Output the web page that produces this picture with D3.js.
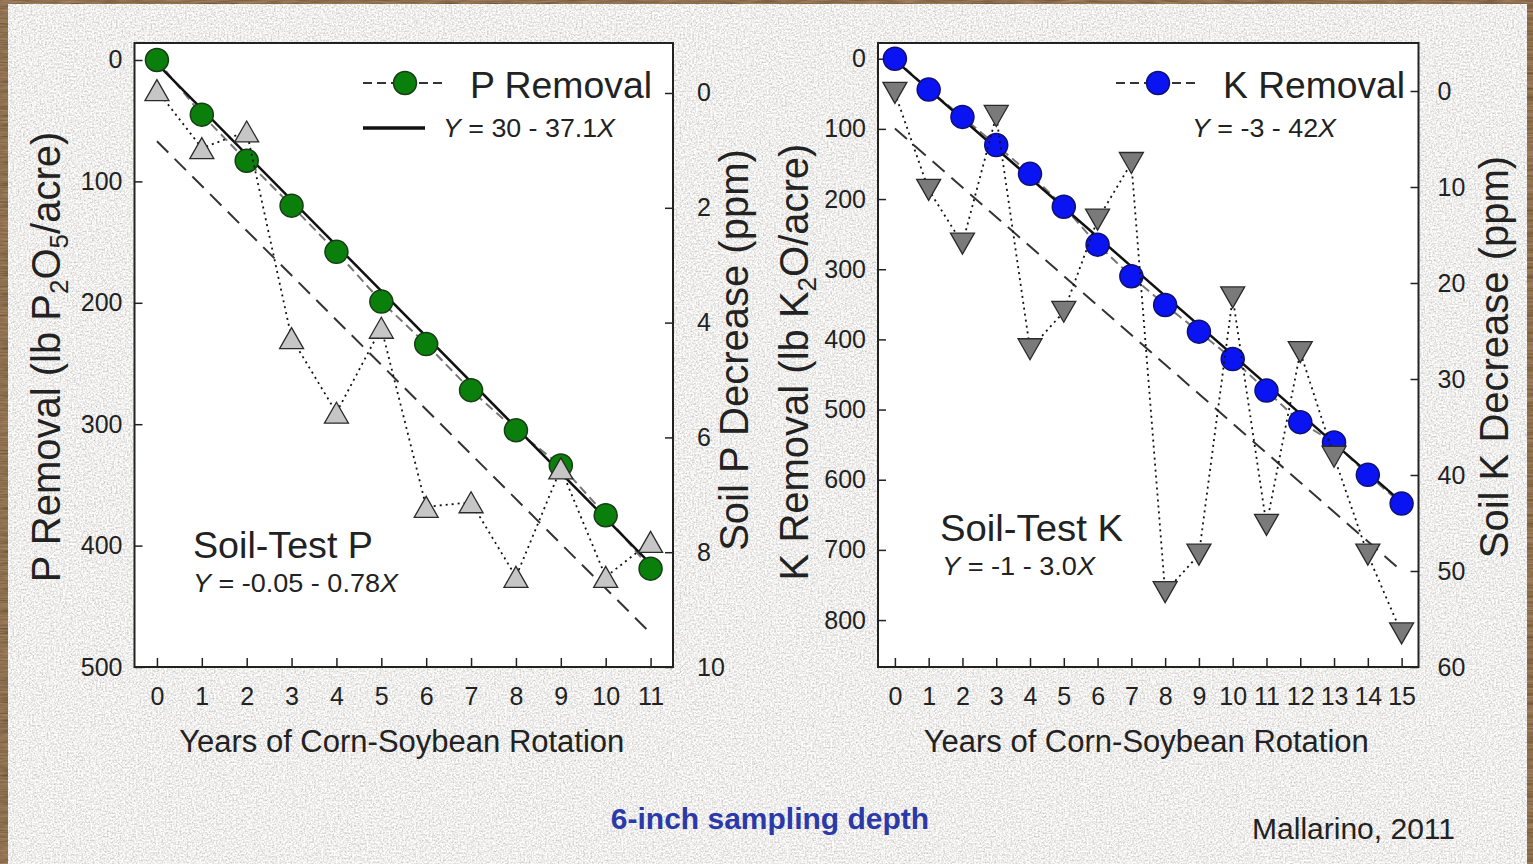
<!DOCTYPE html>
<html>
<head>
<meta charset="utf-8">
<script src="https://cdn.jsdelivr.net/npm/d3@7"></script>
<style>
  html, body { margin: 0; padding: 0; background: #d9d7d3; overflow: hidden; }
  svg { display: block; }
</style>
</head>
<body>
<svg id="fig" width="1533" height="864"></svg>
<script>
// ---- Phosphorus panel data (Years of corn-soybean rotation) ----
const pYears = [0, 1, 2, 3, 4, 5, 6, 7, 8, 9, 10, 11];
const pRemoval = [0, 45, 83, 120, 158, 199, 234, 272, 305, 334, 375, 419];          // lb P2O5/acre
const soilTestP = [-0.05, 0.96, 0.67, 4.27, 5.57, 4.09, 7.21, 7.13, 8.43, 6.54, 8.43, 7.82]; // ppm decrease
const pRemovalFitX = [0, 11];
const pRemovalFitY = [3, 415];
const soilPFitX = [0, 11];
const soilPFitY = [0.84, 9.41];
const pLbTicks = [0, 100, 200, 300, 400, 500];
const pPpmTicks = [0, 2, 4, 6, 8, 10];

// ---- Potassium panel data ----
const kYears = [0, 1, 2, 3, 4, 5, 6, 7, 8, 9, 10, 11, 12, 13, 14, 15];
const kRemoval = [0, 44, 83, 123, 164, 211, 265, 310, 351, 389, 428, 473, 518, 547, 593, 634]; // lb K2O/acre
const soilTestK = [0.2, 10.3, 15.9, 2.6, 26.9, 23.0, 13.4, 7.5, 52.2, 48.3, 21.5, 45.2, 27.2, 38.1, 48.3, 56.5]; // ppm decrease
const kRemovalFitX = [0, 15];
const kRemovalFitY = [2, 632];
const soilKFitX = [0, 15];
const soilKFitY = [3.9, 50];
const kLbTicks = [0, 100, 200, 300, 400, 500, 600, 700, 800];
const kPpmTicks = [0, 10, 20, 30, 40, 50, 60];

const FONT = '"Liberation Sans", Arial, Helvetica, sans-serif';
const W = 1533, H = 864;
const svg = d3.select('#fig').attr('font-family', FONT);
const defs = svg.append('defs');

// Speckled stone texture for the slide background
const stone = defs.append('filter').attr('id', 'stone')
  .attr('x', 0).attr('y', 0).attr('width', '100%').attr('height', '100%');
stone.append('feTurbulence').attr('type', 'fractalNoise').attr('baseFrequency', 0.55)
  .attr('numOctaves', 3).attr('seed', 11).attr('result', 'noise');
stone.append('feColorMatrix').attr('in', 'noise').attr('type', 'matrix')
  .attr('values', '0.8 0 0 0 0.46  0.8 0 0 0 0.455  0.8 0 0 0 0.44  0 0 0 0 1');

const wood = defs.append('filter').attr('id', 'wood')
  .attr('x', 0).attr('y', 0).attr('width', '100%').attr('height', '100%');
wood.append('feTurbulence').attr('type', 'fractalNoise').attr('baseFrequency', '0.05 0.6')
  .attr('numOctaves', 2).attr('seed', 3).attr('result', 'noise');
wood.append('feColorMatrix').attr('in', 'noise').attr('type', 'matrix')
  .attr('values', '0.3 0 0 0 0.12  0.2 0 0 0 0.06  0.12 0 0 0 0.02  0 0 0 0 1');

svg.append('rect').attr('width', W).attr('height', H).attr('filter', 'url(#stone)');
// dark frame along the top, left and right edges
svg.append('rect').attr('x', 0).attr('y', 0).attr('width', W).attr('height', 4).attr('filter', 'url(#wood)');
svg.append('rect').attr('x', 0).attr('y', 0).attr('width', 8).attr('height', H).attr('filter', 'url(#wood)');
svg.append('rect').attr('x', W - 6).attr('y', 0).attr('width', 6).attr('height', H).attr('filter', 'url(#wood)');

function triPath(w, h, down) {
  const s = down ? -1 : 1;
  return `M0,${-s * h / 2}L${w / 2},${s * h / 2}L${-w / 2},${s * h / 2}Z`;
}

function equation(g, x, y, len, parts) {
  const t = g.append('text').attr('x', x).attr('y', y).attr('font-size', 25).attr('fill', '#222')
    .attr('textLength', len).attr('lengthAdjust', 'spacingAndGlyphs');
  t.append('tspan').attr('font-style', 'italic').text('Y');
  t.append('tspan').text(parts);
  t.append('tspan').attr('font-style', 'italic').text('X');
}

function panel(o) {
  const g = svg.append('g');
  const x = d3.scaleLinear().domain(o.xDomain).range([o.left, o.right]);
  const yLb = d3.scaleLinear().domain(o.lbDomain).range([o.top, o.bottom]);
  const yPpm = d3.scaleLinear().domain(o.ppmDomain).range([o.top, o.bottom]);

  g.append('rect').attr('x', o.left).attr('y', o.top)
    .attr('width', o.right - o.left).attr('height', o.bottom - o.top).attr('fill', '#fff');

  const axB = g.append('g').attr('transform', `translate(0,${o.bottom})`)
    .call(d3.axisBottom(x).tickValues(o.years).tickSize(-9).tickPadding(20).tickFormat(d3.format('d')));
  const axL = g.append('g').attr('transform', `translate(${o.left},0)`)
    .call(d3.axisLeft(yLb).tickValues(o.lbTicks).tickSize(-8).tickPadding(12));
  const axR = g.append('g').attr('transform', `translate(${o.right},0)`)
    .call(d3.axisRight(yPpm).tickValues(o.ppmTicks).tickSize(-8).tickPadding(o.rightPad));
  [axB, axL, axR].forEach(a => {
    a.attr('font-family', FONT).attr('font-size', 25);
    a.select('.domain').remove();
    a.selectAll('line').attr('stroke', '#222').attr('stroke-width', 1.5);
    a.selectAll('text').attr('fill', '#222');
  });

  const ln = (sy) => d3.line().x(d => x(d[0])).y(d => sy(d[1]));

  // removal points joined by a dashed line, with fitted regression
  g.append('path').datum(d3.zip(o.years, o.removal)).attr('d', ln(yLb))
    .attr('fill', 'none').attr('stroke', '#777').attr('stroke-width', 2).attr('stroke-dasharray', '9,5');
  g.append('path').datum(d3.zip(o.removalFitX, o.removalFitY)).attr('d', ln(yLb))
    .attr('fill', 'none').attr('stroke', '#111').attr('stroke-width', 2.5);
  // soil-test regression
  g.append('path').datum(d3.zip(o.soilFitX, o.soilFitY)).attr('d', ln(yPpm))
    .attr('fill', 'none').attr('stroke', '#333').attr('stroke-width', 2).attr('stroke-dasharray', '16,9');

  g.selectAll('circle.rm').data(d3.zip(o.years, o.removal)).join('circle')
    .attr('cx', d => x(d[0])).attr('cy', d => yLb(d[1])).attr('r', 11.5)
    .attr('fill', o.dotFill).attr('stroke', o.dotStroke).attr('stroke-width', 1.5);

  g.append('path').datum(d3.zip(o.years, o.soil)).attr('d', ln(yPpm))
    .attr('fill', 'none').attr('stroke', '#111').attr('stroke-width', 1.8).attr('stroke-dasharray', '2,4');

  g.selectAll('path.tri').data(d3.zip(o.years, o.soil)).join('path')
    .attr('transform', d => `translate(${x(d[0])},${yPpm(d[1])})`)
    .attr('d', triPath(24, 21, o.down))
    .attr('fill', o.triFill).attr('stroke', '#2a2a2a').attr('stroke-width', 1.3);

  g.append('rect').attr('x', o.left).attr('y', o.top)
    .attr('width', o.right - o.left).attr('height', o.bottom - o.top)
    .attr('fill', 'none').attr('stroke', '#222').attr('stroke-width', 2);

  // legend
  const leg = g.append('g');
  leg.append('line').attr('x1', o.legX).attr('x2', o.legX + 82).attr('y1', 83).attr('y2', 83)
    .attr('stroke', '#333').attr('stroke-width', 2).attr('stroke-dasharray', '9,5');
  leg.append('circle').attr('cx', o.legX + 42).attr('cy', 83).attr('r', 11.5)
    .attr('fill', o.dotFill).attr('stroke', o.dotStroke).attr('stroke-width', 1.5);
  leg.append('text').attr('x', o.legX + 107).attr('y', 98).attr('font-size', 37).attr('fill', '#222')
    .attr('textLength', 182).attr('lengthAdjust', 'spacingAndGlyphs').text(o.legLabel);
  if (o.solidKey) {
    leg.append('line').attr('x1', o.legX).attr('x2', o.legX + 62).attr('y1', 128).attr('y2', 128)
      .attr('stroke', '#111').attr('stroke-width', 3.5);
  }
  equation(leg, o.eq1[0], 137, o.eq1[1], o.eq1[2]);

  g.append('text').attr('x', o.soilLabel[0]).attr('y', o.soilLabel[1]).attr('font-size', 36).attr('fill', '#222')
    .attr('textLength', o.soilLabel[2]).attr('lengthAdjust', 'spacingAndGlyphs').text(o.soilLabel[3]);
  equation(g, o.eq2[0], o.eq2[1], o.eq2[2], o.eq2[3]);

  // axis titles
  g.append('text').attr('x', (o.left + o.right) / 2 - 2).attr('y', 752).attr('text-anchor', 'middle')
    .attr('font-size', 31).attr('fill', '#222').text('Years of Corn-Soybean Rotation');

  const lt = g.append('text').attr('transform', `translate(${o.lbTitle[0]},${o.lbTitle[1]}) rotate(-90)`)
    .attr('text-anchor', 'middle').attr('font-size', 40).attr('fill', '#222');
  let prevSub = false;
  o.lbTitle[2].forEach(([s, sub]) => {
    const ts = lt.append('tspan').text(s);
    if (sub) ts.attr('font-size', 26).attr('dy', 8);
    else if (prevSub) ts.attr('dy', -8);
    prevSub = !!sub;
  });

  g.append('text').attr('transform', `translate(${o.ppmTitle[0]},${o.ppmTitle[1]}) rotate(-90)`)
    .attr('text-anchor', 'middle').attr('font-size', 40).attr('fill', '#222').text(o.ppmTitle[2]);
}

panel({
  left: 134.5, right: 673, top: 43, bottom: 667,
  xDomain: [-0.5, 11.5], lbDomain: [-14, 500], ppmDomain: [-0.871, 10],
  years: pYears, removal: pRemoval, soil: soilTestP,
  removalFitX: pRemovalFitX, removalFitY: pRemovalFitY,
  soilFitX: soilPFitX, soilFitY: soilPFitY,
  lbTicks: pLbTicks, ppmTicks: pPpmTicks, rightPad: 24,
  dotFill: '#0b7f0b', dotStroke: '#173d17', triFill: '#c6c6c6', down: false,
  legX: 363, legLabel: 'P Removal', solidKey: true,
  eq1: [443, 172, ' = 30 - 37.1'],
  soilLabel: [193, 558, 180, 'Soil-Test P'],
  eq2: [193, 592, 205, ' = -0.05 - 0.78'],
  lbTitle: [60, 357, [['P Removal (lb P'], ['2', true], ['O'], ['5', true], ['/acre)']]],
  ppmTitle: [748, 350, 'Soil P Decrease (ppm)']
});

panel({
  left: 878, right: 1418.5, top: 43, bottom: 667,
  xDomain: [-0.5, 15.5], lbDomain: [-22.4, 866.9], ppmDomain: [-5, 60],
  years: kYears, removal: kRemoval, soil: soilTestK,
  removalFitX: kRemovalFitX, removalFitY: kRemovalFitY,
  soilFitX: soilKFitX, soilFitY: soilKFitY,
  lbTicks: kLbTicks, ppmTicks: kPpmTicks, rightPad: 19,
  dotFill: '#0a14f2', dotStroke: '#101070', triFill: '#7a7a7a', down: true,
  legX: 1116, legLabel: 'K Removal', solidKey: false,
  eq1: [1192, 144, ' = -3 - 42'],
  soilLabel: [940, 541, 183, 'Soil-Test K'],
  eq2: [942, 575, 153, ' = -1 - 3.0'],
  lbTitle: [808, 362, [['K Removal (lb K'], ['2', true], ['O/acre)']]],
  ppmTitle: [1508, 357, 'Soil K Decrease (ppm)']
});

svg.append('text').attr('x', 770).attr('y', 829).attr('text-anchor', 'middle')
  .attr('font-size', 30).attr('font-weight', 'bold').attr('fill', '#2b3aa8')
  .text('6-inch sampling depth');
svg.append('text').attr('x', 1455).attr('y', 839).attr('text-anchor', 'end')
  .attr('font-size', 30).attr('fill', '#222').text('Mallarino, 2011');
</script>
</body>
</html>
